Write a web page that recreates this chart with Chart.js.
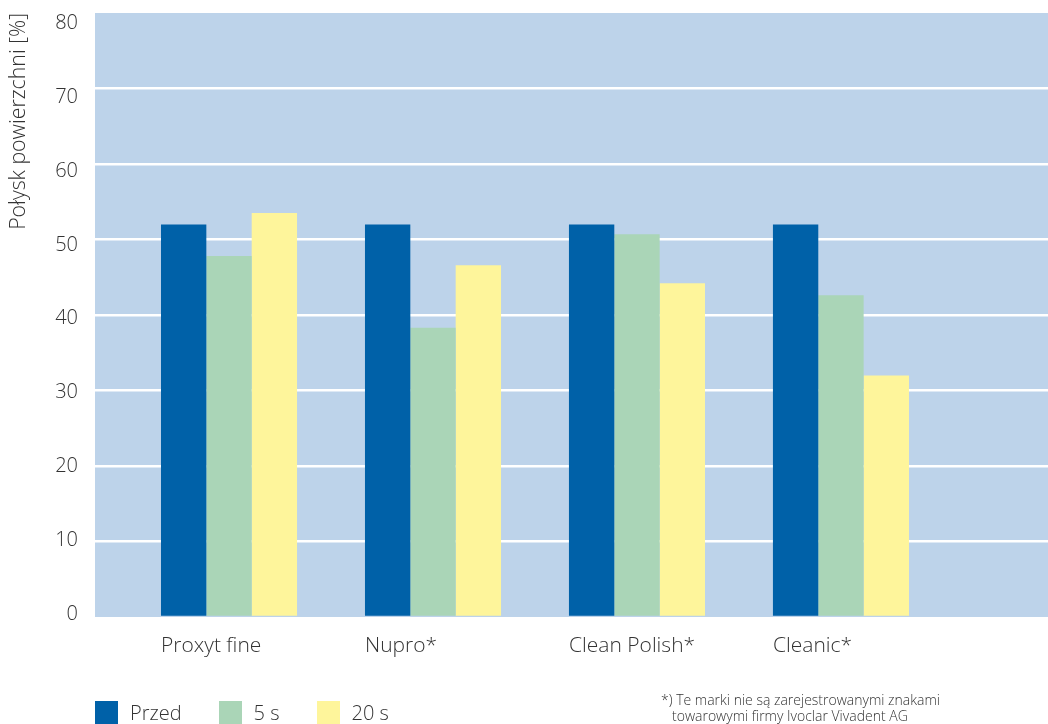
<!DOCTYPE html>
<html>
<head>
<meta charset="utf-8">
<script src="https://cdn.jsdelivr.net/npm/chart.js@4.4.1/dist/chart.umd.min.js"></script>
<style>
  body { margin: 0; background: #fff; font-family: "Open Sans", sans-serif; color: #333; }
  #wrap { position: relative; width: 1048px; height: 724px; overflow: hidden; }
  #legend { position: absolute; left: 95px; top: 701px; display: flex; font-size: 20px; font-weight: 300; line-height: 23px; }
  #legend .item { display: flex; align-items: center; margin-right: 37px; }
  #legend .box { width: 23px; height: 23px; margin-right: 12px; }
  #note { position: absolute; left: 661px; top: 692px; font-size: 14px; font-weight: 300; line-height: 16px; padding-left: 11px; text-indent: -11px; width: 340px; }
</style>
</head>
<body>
<div id="wrap">
  <canvas id="GlossChartjs" width="1048" height="724"></canvas>
  <div id="legend"></div>
  <div id="note"></div>
</div>
<script>
const categories = ['Proxyt fine', 'Nupro*', 'Clean Polish*', 'Cleanic*'];
const seriesNames = ['Przed', '5 s', '20 s'];
const przedValues = [52, 52, 52, 52];
const fiveSecValues = [47.8, 38.3, 50.7, 42.6];
const twentySecValues = [53.5, 46.6, 44.2, 32.0];
const yTicks = [0, 10, 20, 30, 40, 50, 60, 70, 80];
const yTitle = 'Połysk powierzchni [%]';
const footnote = '*) Te marki nie są zarejestrowanymi znakami towarowymi firmy Ivoclar Vivadent AG';

const colors = ['#0061a8', '#aad5b7', '#fef59b'];
const textColor = '#333';
const fontFamily = '"Open Sans", sans-serif';

// bars sit at 0..3, the plot reaches a bit further on both sides
const toPoints = (vals) => vals.map((v, i) => ({ x: i, y: v }));

const plotBg = {
    id: 'plotBg',
    beforeDraw(chart) {
        const a = chart.chartArea;
        const ctx = chart.ctx;
        ctx.save();
        ctx.fillStyle = '#bdd3ea';
        ctx.fillRect(a.left, a.top, a.right - a.left, a.bottom - a.top);
        ctx.restore();
    }
};

const GlossChart = document.getElementById('GlossChartjs').getContext('2d');
const allValues = [przedValues, fiveSecValues, twentySecValues];

new Chart(GlossChart, {
    type: 'bar',
    data: {
        datasets: seriesNames.map((name, k) => ({
            label: name,
            data: toPoints(allValues[k]),
            backgroundColor: colors[k],
            borderWidth: 0,
            categoryPercentage: 0.667,
            barPercentage: 1.0
        }))
    },
    options: {
        responsive: false,
        animation: false,
        layout: { padding: { top: 0, right: 0, bottom: 0, left: 0 } },
        plugins: {
            legend: { display: false },
            tooltip: { enabled: false }
        },
        scales: {
            x: {
                type: 'linear',
                bounds: 'data',
                offset: false,
                min: -0.657,
                max: 4.015,
                grid: { display: false, offset: false },
                border: { display: false },
                afterBuildTicks: (scale) => {
                    scale.ticks = categories.map((c, i) => ({ value: i - 1 / 3 }));
                },
                afterFit: (scale) => { scale.height = 107; },
                ticks: {
                    align: 'start',
                    autoSkip: false,
                    maxRotation: 0,
                    padding: 8,
                    color: textColor,
                    font: { family: fontFamily, size: 21, weight: 300 },
                    callback: (v, idx) => categories[idx]
                }
            },
            y: {
                min: 0,
                max: 80,
                afterBuildTicks: (scale) => {
                    scale.ticks = yTicks.map(v => ({ value: v }));
                },
                afterFit: (scale) => { scale.width = 0; },
                border: { display: false },
                grid: {
                    color: (c) => (c.tick && (c.tick.value === 0 || c.tick.value === 80)) ? 'rgba(0,0,0,0)' : '#ffffff',
                    lineWidth: 2.5,
                    drawTicks: false
                },
                ticks: { display: false }
            },
            // the printed tick numbers sit on a slightly tighter scale than the grid
            yLabels: {
                position: 'left',
                min: -0.41,
                max: 81.42,
                afterBuildTicks: (scale) => {
                    scale.ticks = yTicks.map(v => ({ value: v }));
                },
                afterFit: (scale) => { scale.width = 95; },
                border: { display: false },
                grid: { display: false },
                ticks: {
                    padding: 9,
                    color: textColor,
                    font: { family: fontFamily, size: 20, weight: 300, lineHeight: 0.4 }
                },
                title: {
                    display: true,
                    text: yTitle,
                    align: 'end',
                    color: textColor,
                    padding: { top: 6, bottom: 0 },
                    font: { family: fontFamily, size: 21.3, weight: 300 }
                }
            }
        }
    },
    plugins: [plotBg]
});

// legend and footnote
const legendEl = document.getElementById('legend');
seriesNames.forEach((name, k) => {
    const item = document.createElement('div');
    item.className = 'item';
    item.innerHTML = '<span class="box" style="background:' + colors[k] + '"></span><span>' + name + '</span>';
    legendEl.appendChild(item);
});
document.getElementById('note').textContent = footnote;
</script>
</body>
</html>
